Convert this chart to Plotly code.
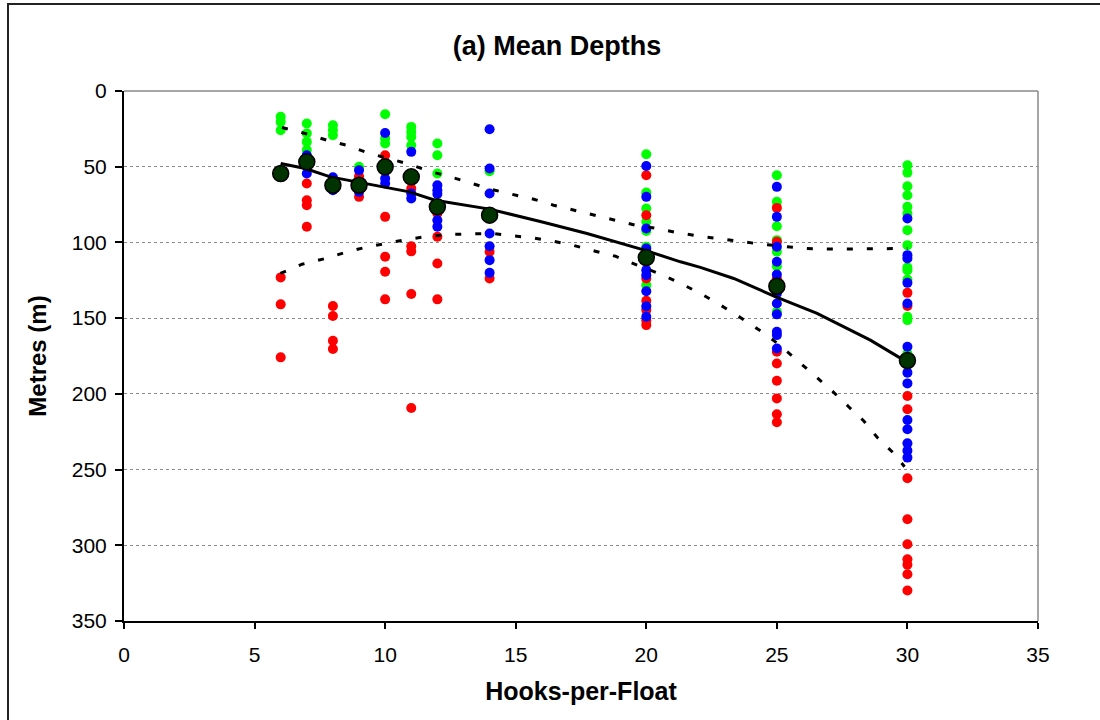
import plotly.graph_objects as go

# ---- data ----
green_x = [6, 6, 6, 7, 7, 7, 7, 8, 8, 8, 9, 10, 10, 10, 11, 11, 11, 11, 12, 12, 12, 14,
           20, 20, 20, 20, 20, 20, 20,
           25, 25, 25, 25, 25, 25, 25,
           30, 30, 30, 30, 30, 30, 30, 30, 30, 30, 30, 30, 30, 30]
green_y = [17, 20.4, 25.9, 21.5, 28, 33.6, 39, 22.6, 25.9, 29.2, 50, 15.4, 31.4, 34.7, 23.7, 27, 30.3, 35.8, 34.7, 42.4, 54.5, 53,
           41.8, 67.1, 77.6, 86.4, 92.4, 102.9, 128.2,
           55.6, 73.2, 89.3, 98.5, 106.2, 115.7, 145.8,
           49, 53.9, 62.9, 68.8, 76.5, 81, 91.9, 101.8, 116.5, 118.3, 124.5, 149.1, 151.3, 173.3]

red_x = [6, 6, 6, 7, 7, 7, 7, 8, 8, 8, 8, 9, 9, 10, 10, 10, 10, 10, 11, 11, 11, 11, 11,
         12, 12, 12, 12, 14, 14,
         20, 20, 20, 20, 20, 20, 20,
         25, 25, 25, 25, 25, 25, 25, 25, 25,
         30, 30, 30, 30, 30, 30, 30, 30, 30, 30, 30]
red_y = [123.1, 140.9, 175.9, 61.1, 72.1, 75.4, 89.7, 142, 148.6, 164.9, 170.4, 56.3, 69.9,
         42.4, 83.1, 109.5, 119.4, 137.6, 64.4, 102.6, 105.9, 134.1, 209.3,
         80.9, 96.3, 113.9, 137.6, 106.2, 123.8,
         55.6, 82, 123.8, 138.5, 144.7, 151.5, 154.6,
         77.2, 99.6, 123.8, 172.2, 180, 191.3, 203, 213.5, 218.8,
         133.3, 142, 201.4, 210.2, 255.7, 282.8, 299.3, 309.2, 312.9, 319.1, 329.9]

blue_x = [7, 7, 8, 8, 9, 9, 10, 10, 10, 11, 11, 11, 12, 12, 12, 12, 12,
          14, 14, 14, 14, 14, 14, 14,
          20, 20, 20, 20, 20, 20, 20, 20, 20, 20,
          25, 25, 25, 25, 25, 25, 25, 25, 25, 25, 25,
          30, 30, 30, 30, 30, 30, 30, 30, 30, 30, 30, 30, 30]
blue_y = [42.4, 54.5, 57, 65.5, 52.3, 66.6, 27.7, 57.8, 61.1, 40.2, 67.7, 71, 62.2, 65.5, 68, 85.3, 89.7,
          25.3, 51.2, 67.7, 94.1, 102.5, 111.7, 120.1,
          49.5, 69.9, 90.8, 104, 107, 118.3, 121.6, 132.2, 142.1, 149.1,
          63.3, 83.1, 102.9, 112.8, 121.2, 133.7, 140.3, 147.5, 159, 161.2, 170,
          84.2, 108.4, 110.6, 126.7, 140.3, 168.9, 186, 193.1, 217.3, 223.4, 232.7, 237.5, 242.1]

mean_x = [6, 7, 8, 9, 10, 11, 12, 14, 20, 25, 30]
mean_y = [54.5, 46.8, 62.2, 62.2, 50.1, 56.7, 76.5, 82, 110, 128.9, 178]

trend_x = [6, 6.94, 7.9, 8.92, 9.92, 10.93, 11.91, 14, 15.98, 17.73, 19.93, 21.31, 22.07, 23.35, 24.96, 26.54, 28.58, 29.86]
trend_y = [47.9, 51.2, 56.7, 60, 63.3, 66.6, 72.1, 78, 86.4, 94.1, 105.1, 112.8, 116.5, 123.8, 135.9, 146.9, 164.5, 177.7]

upper_x = [6.05, 6.94, 7.77, 8.51, 9.31, 10.07, 10.93, 11.69, 12.5, 13.26, 14.09, 14.86, 15.69, 16.45, 17.22,
           18.05, 18.82, 19.58, 20.41, 21.24, 22.07, 22.84, 23.6, 24.37, 25.2, 25.97, 26.79, 28, 29, 30]
upper_y = [24.1, 28.1, 32.5, 35.8, 40.7, 44.2, 48.4, 53, 56.7, 60.7, 65.1, 68.2, 71.5, 75.4, 78.7,
           82, 85.3, 88.6, 90.8, 93.7, 95.9, 97.8, 99.5, 101.1, 102.5, 103.8, 104.4, 104.4, 104.4, 104]

lower_x = [5.99, 6.82, 7.71, 8.47, 9.28, 10.07, 10.9, 11.7, 12.5, 13.26, 14.09, 14.86, 15.63, 16.45, 17.22,
           18.05, 18.82, 19.65, 20.47, 21.2, 22.07, 22.84, 23.6, 24.43, 25.11, 25.84, 26.48, 27.12, 27.75,
           28.33, 28.84, 29.45, 29.89]
lower_y = [120.5, 114.4, 110.6, 106.6, 103.1, 100.3, 97.8, 95.9, 94.8, 94.3, 94.1, 95.6, 96.9, 99.2, 102,
           105.8, 109.1, 115, 120.5, 126, 133.7, 141.4, 149.5, 159, 167.8, 178.8, 188.2, 198.1, 208.5,
           217.9, 228.7, 238.8, 248.1]

x_ticks = [0, 5, 10, 15, 20, 25, 30, 35]
y_ticks = [0, 50, 100, 150, 200, 250, 300, 350]

FONT = "Arial, Liberation Sans, sans-serif"
DOT = 10

fig = go.Figure()
for xs, ys, col in [(green_x, green_y, "#00ff00"), (red_x, red_y, "#ff0000"), (blue_x, blue_y, "#0000ff")]:
    fig.add_trace(go.Scatter(x=xs, y=ys, mode="markers",
                             marker=dict(size=DOT, color=col, line=dict(width=0)),
                             showlegend=False, hoverinfo="x+y"))

for xs, ys in [(upper_x, upper_y), (lower_x, lower_y)]:
    fig.add_trace(go.Scatter(x=xs, y=ys, mode="lines",
                             line=dict(color="black", width=3, dash="6px,14px"),
                             showlegend=False, hoverinfo="skip"))

fig.add_trace(go.Scatter(x=trend_x, y=trend_y, mode="lines",
                         line=dict(color="black", width=3),
                         showlegend=False, hoverinfo="skip"))

fig.add_trace(go.Scatter(x=mean_x, y=mean_y, mode="markers",
                         marker=dict(size=16, color="#013301", line=dict(width=1.5, color="black")),
                         showlegend=False))

# plot area geometry (px)
L, R, T, B = 124, 1038, 91, 621
W, H = 1100, 720
pw, ph = R - L, B - T

def px_x(p):
    return (p - L) / pw

def px_y(p):
    return (B - p) / ph

shapes = [
    # outer chart frame
    dict(type="rect", xref="paper", yref="paper",
         x0=px_x(8), x1=px_x(1106), y0=px_y(4), y1=px_y(730),
         line=dict(color="#222222", width=2), layer="below"),
    # plot area top / right borders
    dict(type="line", xref="paper", yref="paper", x0=0, x1=1, y0=1, y1=1,
         line=dict(color="#888888", width=1.5), layer="below"),
    dict(type="line", xref="paper", yref="paper", x0=1, x1=1, y0=0, y1=1,
         line=dict(color="#888888", width=1.5), layer="below"),
]

fig.update_layout(
    width=W, height=H,
    margin=dict(l=L, r=W - R, t=T, b=H - B),
    paper_bgcolor="white", plot_bgcolor="white",
    font=dict(family=FONT, color="black", size=21),
    title=dict(text="<b>(a) Mean Depths</b>", x=557 / W, xref="container", xanchor="center",
               y=1 - 46 / H, yref="container", yanchor="middle",
               font=dict(size=27, family=FONT, color="black")),
    shapes=shapes,
    xaxis=dict(range=[0, 35], tickvals=x_ticks, ticks="outside", ticklen=6, tickwidth=1.5,
               tickcolor="black", showline=True, linecolor="black", linewidth=2,
               showgrid=False, zeroline=False, ticklabelstandoff=8,
               title=dict(text="<b>Hooks-per-Float</b>", font=dict(size=25), standoff=17),
               tickfont=dict(size=21)),
    yaxis=dict(range=[350, 0], tickvals=y_ticks, ticks="outside", ticklen=7, tickwidth=1.5,
               tickcolor="black", showline=True, linecolor="black", linewidth=2,
               showgrid=True, gridcolor="#8a8a8a", gridwidth=1, griddash="dot",
               zeroline=False, ticklabelstandoff=4,
               title=dict(text="<b>Metres (m)</b>", font=dict(size=24), standoff=18),
               tickfont=dict(size=21)),
)

fig.write_html("out.html")
